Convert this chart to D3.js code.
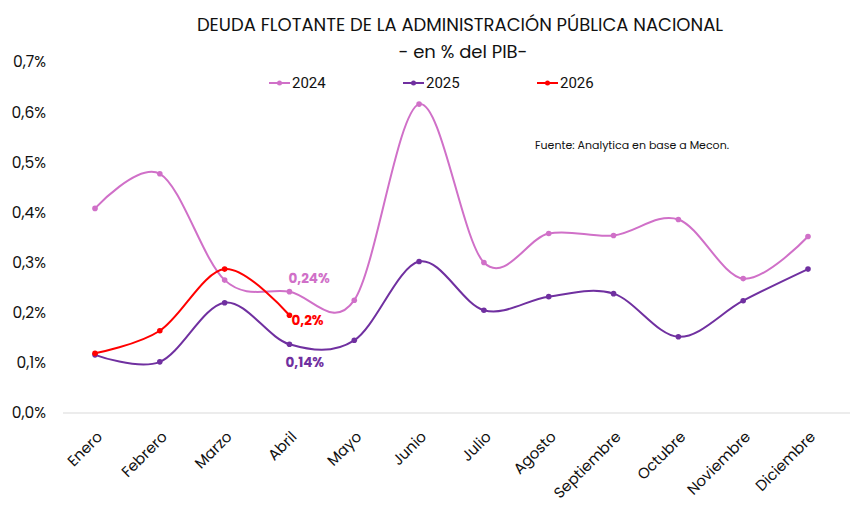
<!DOCTYPE html>
<html>
<head>
<meta charset="utf-8">
<script src="https://cdn.jsdelivr.net/npm/d3@7"></script>
<style>
  body { margin: 0; background: #fff; }
  svg { font-family: Poppins, Lato, "Open Sans", sans-serif; }
</style>
</head>
<body>
<div id="chart"></div>
<script>
const chartWidth = 861
const chartHeight = 516

const months = ['Enero', 'Febrero', 'Marzo', 'Abril', 'Mayo', 'Junio', 'Julio',
    'Agosto', 'Septiembre', 'Octubre', 'Noviembre', 'Diciembre']
const values2024 = [0.408, 0.477, 0.265, 0.242, 0.225, 0.616, 0.300, 0.358, 0.354, 0.386, 0.268, 0.352]
const values2025 = [0.116, 0.102, 0.220, 0.137, 0.145, 0.302, 0.205, 0.232, 0.238, 0.152, 0.224, 0.287]
const values2026 = [0.119, 0.164, 0.287, 0.195]
const yTicks = [0, 0.1, 0.2, 0.3, 0.4, 0.5, 0.6, 0.7]

const series = [
    { name: '2024', values: values2024, color: '#d070c8', legendX: 269 },
    { name: '2025', values: values2025, color: '#7030a0', legendX: 403 },
    { name: '2026', values: values2026, color: '#ff0000', legendX: 537 }
]

const labels = [
    { text: '0,24%', series: 0, month: 3, dx: -1, dy: -13, color: '#d070c8' },
    { text: '0,2%', series: 2, month: 3, dx: 2, dy: 5, color: '#ff0000' },
    { text: '0,14%', series: 1, month: 3, dx: -4, dy: 18, color: '#7030a0' }
]

const svg = d3.select('#chart')
    .append('svg')
    .attr('width', chartWidth)
    .attr('height', chartHeight)

const xScale = d3.scalePoint()
    .domain(months)
    .range([95, 808])

const yScale = d3.scaleLinear()
    .domain([0, 0.7])
    .range([413, 62])

const fmt = v => d3.format('.1f')(v).replace('.', ',') + '%'

// eje y
svg.append('g')
    .selectAll('text')
    .data(yTicks)
    .enter()
    .append('text')
    .attr('x', 46)
    .attr('y', d => yScale(d))
    .attr('dy', '0.35em')
    .attr('text-anchor', 'end')
    .style('font-size', '15.5px')
    .attr('fill', '#111')
    .text(fmt)

// linea base
svg.append('line')
    .attr('x1', 63)
    .attr('x2', 850)
    .attr('y1', yScale(0))
    .attr('y2', yScale(0))
    .attr('stroke', '#d9d9d9')
    .attr('stroke-width', 1)

// eje x
const xAxis = d3.axisBottom(xScale).tickSize(0).tickPadding(0)
const gx = svg.append('g')
    .attr('transform', `translate(0, ${yScale(0)})`)
    .call(xAxis)
gx.select('.domain').remove()
gx.selectAll('text')
    .attr('transform', 'translate(4, 21) rotate(-45)')
    .attr('text-anchor', 'end')
    .attr('dy', '0.35em')
    .style('font-family', 'Poppins, Lato, "Open Sans", sans-serif')
    .style('font-size', '15px')
    .attr('fill', '#111')

const line = d3.line()
    .x((d, i) => xScale(months[i]))
    .y(d => yScale(d))
    .curve(d3.curveCatmullRom.alpha(0))

series.forEach(s => {
    svg.append('path')
        .datum(s.values)
        .attr('fill', 'none')
        .attr('stroke', s.color)
        .attr('stroke-width', 2)
        .attr('d', line)

    svg.append('g')
        .selectAll('circle')
        .data(s.values)
        .enter()
        .append('circle')
        .attr('cx', (d, i) => xScale(months[i]))
        .attr('cy', d => yScale(d))
        .attr('r', 2.8)
        .attr('fill', s.color)

    // leyenda
    const lg = svg.append('g')
    lg.append('line')
        .attr('x1', s.legendX)
        .attr('x2', s.legendX + 21)
        .attr('y1', 83)
        .attr('y2', 83)
        .attr('stroke', s.color)
        .attr('stroke-width', 2)
    lg.append('circle')
        .attr('cx', s.legendX + 10.5)
        .attr('cy', 83)
        .attr('r', 2.5)
        .attr('fill', s.color)
    lg.append('text')
        .attr('x', s.legendX + 23)
        .attr('y', 83)
        .attr('dy', '0.35em')
        .style('font-family', 'Roboto, sans-serif')
        .style('font-size', '15px')
        .attr('fill', '#111')
        .text(s.name)
})

// etiquetas de datos
svg.append('g')
    .selectAll('text')
    .data(labels)
    .enter()
    .append('text')
    .attr('x', d => xScale(months[d.month]) + d.dx)
    .attr('y', d => yScale(series[d.series].values[d.month]) + d.dy)
    .attr('dy', '0.35em')
    .style('font-size', '13.5px')
    .style('font-weight', 'bold')
    .attr('fill', d => d.color)
    .text(d => d.text)

// titulo
svg.append('text')
    .attr('x', 460)
    .attr('y', 25)
    .attr('dy', '0.35em')
    .attr('text-anchor', 'middle')
    .style('font-size', '18px')
    .attr('fill', '#111')
    .text('DEUDA FLOTANTE DE LA ADMINISTRACIÓN PÚBLICA NACIONAL')

svg.append('text')
    .attr('x', 463)
    .attr('y', 52)
    .attr('dy', '0.35em')
    .attr('text-anchor', 'middle')
    .style('font-size', '18px')
    .attr('fill', '#111')
    .text('- en % del PIB-')

svg.append('text')
    .attr('x', 535)
    .attr('y', 145)
    .attr('dy', '0.35em')
    .style('font-size', '11px')
    .attr('fill', '#111')
    .text('Fuente: Analytica en base a Mecon.')
</script>
</body>
</html>
